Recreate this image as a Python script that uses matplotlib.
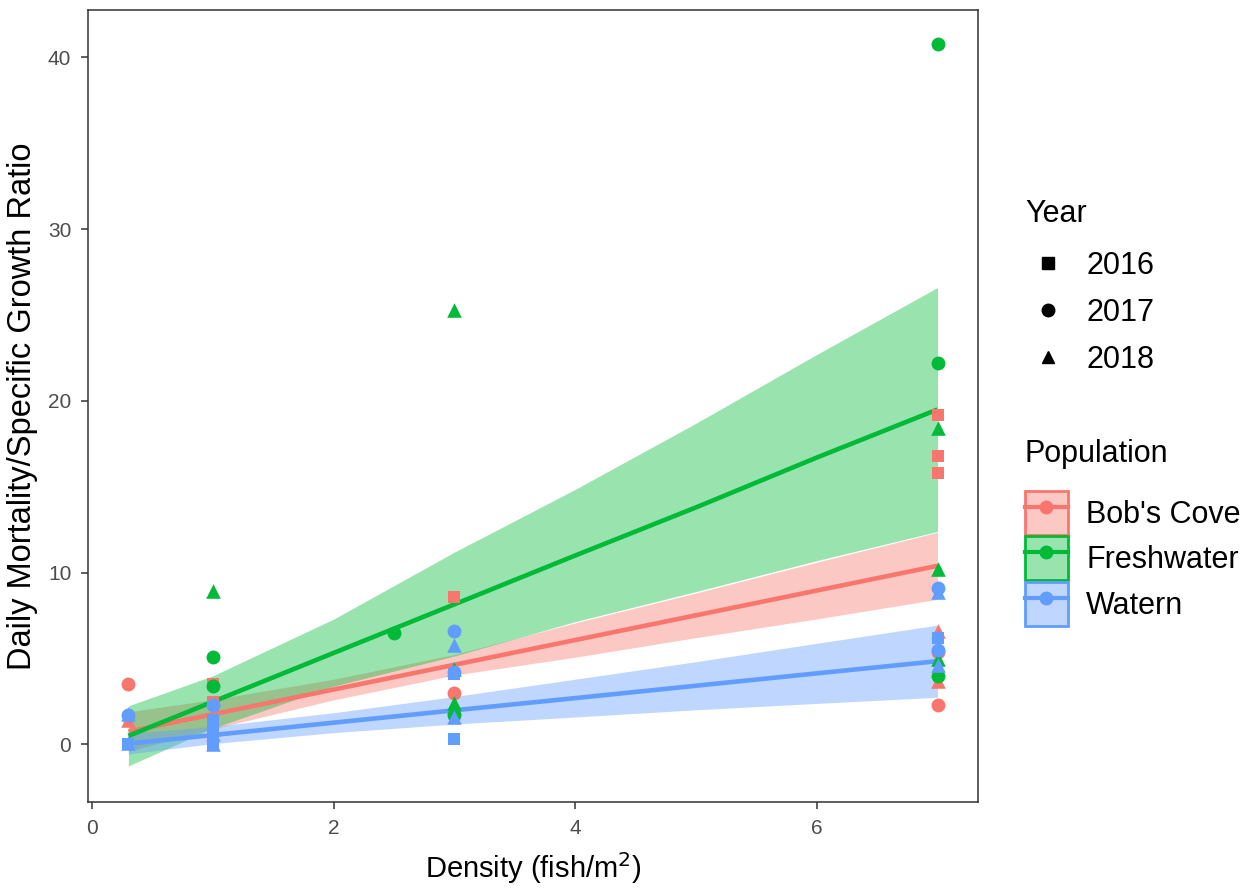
import matplotlib
matplotlib.use('Agg')
import matplotlib.pyplot as plt
from matplotlib.lines import Line2D
from matplotlib.patches import Patch

plt.rcParams['font.family'] = ['Liberation Sans', 'DejaVu Sans']

populations = ["Bob's Cove", 'Freshwater', 'Watern']
colors = {"Bob's Cove": '#F8766D', 'Freshwater': '#00BA38', 'Watern': '#619CFF'}
years = ['2016', '2017', '2018']
markers = {'2016': 's', '2017': 'o', '2018': '^'}

# points: population -> year -> (density, ratio)
bob_x = {'2016': [1, 1, 3, 7, 7, 7], '2017': [0.3, 3, 7, 7], '2018': [0.3, 1, 3, 7, 7]}
bob_y = {'2016': [3.5, 2.5, 8.6, 19.2, 16.8, 15.8], '2017': [3.5, 3.0, 5.4, 2.3],
         '2018': [1.4, 0.9, 2.2, 6.6, 3.7]}
fresh_x = {'2016': [], '2017': [1, 1, 2.5, 3, 7, 7, 7], '2018': [1, 3, 3, 3, 7, 7, 7]}
fresh_y = {'2016': [], '2017': [5.1, 3.4, 6.5, 1.7, 40.8, 22.2, 4.0],
           '2018': [8.95, 25.3, 4.4, 2.4, 18.4, 10.2, 5.0]}
wat_x = {'2016': [0.3, 1, 1, 1, 1, 3, 3, 7], '2017': [0.3, 1, 3, 3, 7, 7],
         '2018': [0.3, 0.3, 1, 1, 3, 3, 7, 7]}
wat_y = {'2016': [0.0, 1.4, 0.9, 0.4, 0.0, 4.1, 0.3, 6.2],
         '2017': [1.7, 2.3, 6.6, 4.2, 9.1, 5.5],
         '2018': [1.8, 0.1, 0.6, 0.0, 5.8, 1.6, 8.9, 4.6]}

# fitted lines and 95% bands
fit_x = [0.3, 1, 2, 3, 4, 5, 6, 7]
bob_fit = [0.75, 1.76, 3.2, 4.64, 6.08, 7.52, 8.96, 10.4]
bob_lo = [-0.4, 0.91, 2.6, 4.04, 5.08, 6.22, 7.31, 8.45]
bob_hi = [1.9, 2.61, 3.8, 5.24, 7.08, 8.82, 10.61, 12.35]
fresh_fit = [0.5, 2.49, 5.33, 8.16, 11.0, 13.8, 16.7, 19.5]
fresh_lo = [-1.25, 0.95, 3.4, 5.15, 7.15, 8.9, 10.7, 12.4]
fresh_hi = [2.25, 4.0, 7.3, 11.2, 14.85, 18.7, 22.7, 26.6]
wat_fit = [0.05, 0.55, 1.27, 1.99, 2.7, 3.42, 4.14, 4.85]
wat_lo = [-0.55, 0.05, 0.69, 1.19, 1.6, 2.02, 2.39, 2.75]
wat_hi = [0.65, 1.05, 1.85, 2.79, 3.8, 4.82, 5.89, 6.95]

pts_x = {"Bob's Cove": bob_x, 'Freshwater': fresh_x, 'Watern': wat_x}
pts_y = {"Bob's Cove": bob_y, 'Freshwater': fresh_y, 'Watern': wat_y}
fits = {"Bob's Cove": (bob_fit, bob_lo, bob_hi),
        'Freshwater': (fresh_fit, fresh_lo, fresh_hi),
        'Watern': (wat_fit, wat_lo, wat_hi)}

fig = plt.figure(figsize=(12.53, 8.88), dpi=100)
ax = fig.add_axes([0.0702, 0.0968, 0.7103, 0.8919])

for pop in populations:
    fit, lo, hi = fits[pop]
    ax.fill_between(fit_x, lo, hi, color=colors[pop], alpha=0.4, lw=0, zorder=1)
    ax.plot(fit_x, fit, color=colors[pop], lw=3.3, zorder=2, solid_capstyle='butt')

sizes = {'2016': 85, '2017': 100, '2018': 110}
for pop in populations:
    for yr in years:
        ax.scatter(pts_x[pop][yr], pts_y[pop][yr], marker=markers[yr], s=sizes[yr],
                   color=colors[pop], linewidths=0, zorder=3)

ax.set_xlim(-0.035, 7.335)
ax.set_ylim(-3.35, 42.75)
ax.set_xticks([0, 2, 4, 6])
ax.set_yticks([0, 10, 20, 30, 40])
ax.tick_params(colors='#333333', labelcolor='#4D4D4D', labelsize=15, length=5,
               width=1.1, pad=7)
for s in ax.spines.values():
    s.set_color('#333333')
    s.set_linewidth(1.1)
ax.set_xlabel('Density (fish/m$^2$)', fontsize=21, labelpad=9)
ax.set_ylabel('Daily Mortality/Specific Growth Ratio', fontsize=23.5, labelpad=7)

fs = 22
year_handles = [Line2D([], [], ls='none', marker=markers[yr], color='black', ms=9)
                for yr in years]
leg1 = fig.legend(year_handles, years, title='Year', loc='upper left',
                  bbox_to_anchor=(0.818, 0.776), frameon=False, fontsize=fs,
                  title_fontsize=fs, handlelength=1.5, handletextpad=0.5,
                  labelspacing=0.55, borderpad=0, borderaxespad=0, alignment='left')
leg1._legend_box.sep = 16

pop_handles = [(Patch(facecolor=colors[p], alpha=0.4, edgecolor='none'),
                Patch(facecolor='none', edgecolor=colors[p], lw=2),
                Line2D([], [], color=colors[p], lw=3, marker='o', ms=9))
               for p in populations]
leg2 = fig.legend(pop_handles, populations, title='Population', loc='upper left',
                  bbox_to_anchor=(0.818, 0.506), frameon=False, fontsize=fs,
                  title_fontsize=fs, handlelength=1.4, handleheight=1.84,
                  handletextpad=0.6, labelspacing=0.05, borderpad=0,
                  borderaxespad=0, alignment='left')
leg2._legend_box.sep = 16

fig.savefig('out.png', dpi=100)
